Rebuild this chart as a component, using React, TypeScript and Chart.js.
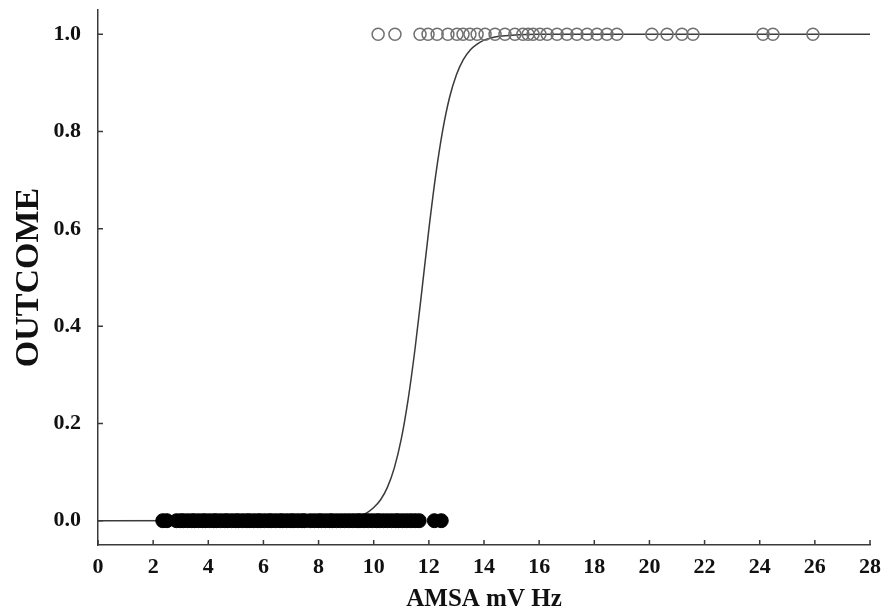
import React, { useEffect, useRef } from 'react';
import { Chart, registerables } from 'chart.js';

Chart.register(...registerables);

// Axis tick values
const xTicks = [0, 2, 4, 6, 8, 10, 12, 14, 16, 18, 20, 22, 24, 26, 28];
const yTicks = [0, 0.2, 0.4, 0.6, 0.8, 1.0];

// Fitted logistic curve
const curveX = [0, 8, 8.5, 9, 9.25, 9.5, 9.75, 10, 10.25, 10.5, 10.75, 11, 11.25, 11.5, 11.75, 12, 12.25, 12.5, 12.75, 13, 13.25, 13.5, 13.75, 14, 14.5, 15, 16, 28];
const curveY = [0, 0.0005, 0.0014, 0.0037, 0.006, 0.01, 0.016, 0.027, 0.043, 0.069, 0.109, 0.168, 0.25, 0.354, 0.475, 0.599, 0.711, 0.802, 0.87, 0.917, 0.948, 0.968, 0.98, 0.988, 0.9955, 0.998, 1.0, 1.0];

// Observed cases with OUTCOME = 1 (open circles)
const positiveX = [10.16, 10.77, 11.68, 11.97, 12.3, 12.69, 13.02, 13.24, 13.49, 13.75, 14.04, 14.4, 14.76, 15.12, 15.41, 15.6, 15.78, 16.03, 16.29, 16.65, 17.01, 17.37, 17.74, 18.1, 18.46, 18.82, 20.09, 20.64, 21.18, 21.58, 24.12, 24.48, 25.93];

// Observed cases with OUTCOME = 0 (filled circles)
const negativeX = [2.35, 2.5, 2.85, 3.0, 3.1, 3.25, 3.4, 3.5, 3.65, 3.8, 3.9, 4.05, 4.2, 4.3, 4.45, 4.6, 4.7, 4.85, 5.0, 5.1, 5.25, 5.4, 5.5, 5.65, 5.8, 5.9, 6.05, 6.2, 6.3, 6.45, 6.6, 6.7, 6.85, 7.0, 7.1, 7.25, 7.4, 7.5, 7.7, 7.85, 8.0, 8.1, 8.25, 8.4, 8.5, 8.65, 8.8, 8.95, 9.1, 9.25, 9.4, 9.5, 9.65, 9.8, 9.95, 10.1, 10.2, 10.35, 10.5, 10.65, 10.8, 10.9, 11.05, 11.2, 11.35, 11.5, 11.65, 12.2, 12.45];

const FONT = '"Liberation Serif", "Times New Roman", serif';
const AXIS_COLOR = '#3a3a3a';
const TEXT_COLOR = '#111111';

export default function App() {
  const ref = useRef<HTMLCanvasElement | null>(null);

  useEffect(() => {
    if (!ref.current) return;

    const innerTicks = {
      id: 'innerTicks',
      afterDraw(chart: any) {
        const { ctx, chartArea } = chart;
        const xs = chart.scales.x;
        const ys = chart.scales.y;
        ctx.save();
        ctx.strokeStyle = AXIS_COLOR;
        ctx.lineWidth = 1.5;
        ctx.beginPath();
        xTicks.forEach((v) => {
          const px = xs.getPixelForValue(v);
          ctx.moveTo(px, chartArea.bottom);
          ctx.lineTo(px, chartArea.bottom - 5);
        });
        yTicks.forEach((v) => {
          const py = ys.getPixelForValue(v);
          ctx.moveTo(chartArea.left, py);
          ctx.lineTo(chartArea.left + 5, py);
        });
        ctx.stroke();
        ctx.restore();
      },
    };

    const chart = new Chart(ref.current, {
      type: 'scatter',
      data: {
        datasets: [
          {
            label: 'fit',
            data: curveX.map((x, i) => ({ x, y: curveY[i] })),
            showLine: true,
            borderColor: AXIS_COLOR,
            borderWidth: 1.5,
            pointRadius: 0,
            cubicInterpolationMode: 'monotone',
            order: 2,
          },
          {
            label: 'outcome 1',
            data: positiveX.map((x) => ({ x, y: 1 })),
            pointRadius: 6,
            pointBorderWidth: 1.5,
            borderColor: '#707070',
            backgroundColor: 'rgba(0,0,0,0)',
            order: 1,
          },
          {
            label: 'outcome 0',
            data: negativeX.map((x) => ({ x, y: 0 })),
            pointRadius: 7,
            pointBorderWidth: 1,
            borderColor: '#000000',
            backgroundColor: '#000000',
            order: 1,
          },
        ],
      } as any,
      options: {
        responsive: false,
        animation: false,
        devicePixelRatio: 1,
        layout: { padding: { left: 0, right: 14, top: 10, bottom: 0 } },
        plugins: { legend: { display: false }, tooltip: { enabled: false } },
        scales: {
          x: {
            type: 'linear',
            min: 0,
            max: 28,
            afterBuildTicks: (s: any) => {
              s.ticks = xTicks.map((v) => ({ value: v }));
            },
            afterFit: (s: any) => {
              s.height = 71;
              s.paddingLeft = 0;
              s.paddingRight = 0;
            },
            ticks: {
              font: { family: FONT, size: 22, weight: 'bold' },
              color: TEXT_COLOR,
              padding: 9,
              maxRotation: 0,
              autoSkip: false,
            },
            grid: { drawOnChartArea: false, drawTicks: false },
            border: { display: true, color: AXIS_COLOR, width: 1.5 },
            title: {
              display: true,
              text: 'AMSA mV Hz',
              font: { family: FONT, size: 25, weight: 'bold' },
              color: TEXT_COLOR,
              padding: { top: 0, bottom: 1 },
            },
          },
          y: {
            type: 'linear',
            min: -0.05,
            max: 1.05,
            afterBuildTicks: (s: any) => {
              s.ticks = yTicks.map((v) => ({ value: v }));
            },
            afterFit: (s: any) => {
              s.width = 98;
              s.paddingTop = 0;
              s.paddingBottom = 0;
            },
            ticks: {
              font: { family: FONT, size: 22, weight: 'bold' },
              color: TEXT_COLOR,
              padding: 17,
              callback: (v: any) => Number(v).toFixed(1),
            },
            grid: { drawOnChartArea: false, drawTicks: false },
            border: { display: true, color: AXIS_COLOR, width: 1.5 },
            title: {
              display: true,
              text: 'OUTCOME',
              font: { family: FONT, size: 34, weight: 'bold' },
              color: TEXT_COLOR,
              padding: { top: 9, bottom: 0 },
            },
          },
        },
      } as any,
      plugins: [innerTicks],
    });

    return () => chart.destroy();
  }, []);

  return (
    <div style={{ position: 'fixed', left: 0, top: 0, width: 884, height: 616, background: '#ffffff' }}>
      <canvas ref={ref} width={884} height={616} style={{ display: 'block' }} />
    </div>
  );
}
